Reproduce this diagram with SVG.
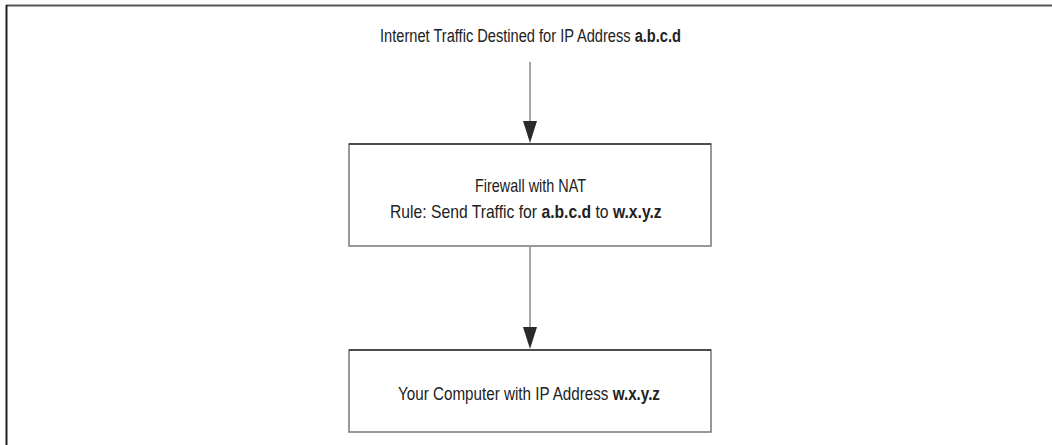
<svg xmlns="http://www.w3.org/2000/svg" width="1052" height="445" viewBox="0 0 1052 445">
<style>
.t{font-family:"Liberation Sans",Arial,sans-serif;font-size:18px;fill:#222}
.b{font-weight:bold}
.box{fill:#fff;stroke:#777;stroke-width:1.5}
.ln{stroke:#888;stroke-width:1.5;fill:none}
.ah{fill:#2a2a2a}
</style>
<rect width="1052" height="445" fill="#fff"/>
<g id="frame">
<line x1="6" y1="5.5" x2="1052" y2="5.5" stroke="#555" stroke-width="2"/>
<line x1="6.5" y1="5" x2="6.5" y2="445" stroke="#222" stroke-width="2"/>
</g>
<g id="connectors">
<line class="ln" x1="530" y1="62" x2="530" y2="122"/>
<path class="ah" d="M523,121 L537,121 L530,143 Z"/>
<line class="ln" x1="530" y1="247" x2="530" y2="328"/>
<path class="ah" d="M523,327 L537,327 L530,349 Z"/>
</g>
<g id="source">
<text class="t" transform="translate(380,42) scale(0.813,1)">Internet Traffic Destined for IP Address <tspan class="b">a.b.c.d</tspan></text>
</g>
<g id="firewall">
<rect class="box" x="349" y="144" width="362" height="102"/>
<line x1="349" y1="144" x2="711" y2="144" stroke="#333" stroke-width="1.5"/>
<text class="t" transform="translate(475,192) scale(0.801,1)">Firewall with NAT</text>
<text class="t" transform="translate(390,218) scale(0.872,1)">Rule: Send Traffic for <tspan class="b">a.b.c.d</tspan> to <tspan class="b">w.x.y.z</tspan></text>
</g>
<g id="computer">
<rect class="box" x="349" y="350" width="362" height="82"/>
<line x1="349" y1="350" x2="711" y2="350" stroke="#333" stroke-width="1.5"/>
<text class="t" transform="translate(398,400) scale(0.845,1)">Your Computer with IP Address <tspan class="b">w.x.y.z</tspan></text>
</g>
</svg>
